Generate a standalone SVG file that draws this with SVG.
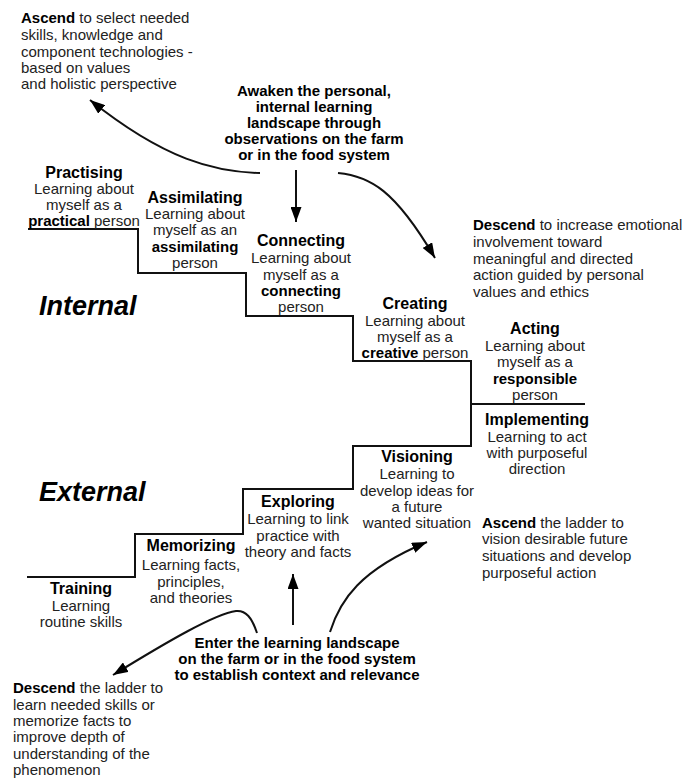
<svg xmlns="http://www.w3.org/2000/svg" width="683" height="778" viewBox="0 0 683 778">
<style>
text{font-family:"Liberation Sans",Arial,sans-serif;}
.t{font-size:15px;fill:#222;}
.c{font-size:15px;fill:#222;text-anchor:middle;}
.h{font-size:16px;font-weight:bold;fill:#000;}
.b{font-weight:bold;fill:#000;}
.big{font-size:27px;font-weight:bold;font-style:italic;fill:#000;}
.line{fill:none;stroke:#111;stroke-width:2;}
.arr{fill:none;stroke:#111;stroke-width:2;marker-end:url(#ah);}
</style>
<defs>
<marker id="ah" markerUnits="userSpaceOnUse" markerWidth="15" markerHeight="11" refX="15" refY="5.5" orient="auto">
<path d="M0,0 L15,5.5 L0,11 z" fill="#000"/>
</marker>
</defs>
<rect width="683" height="778" fill="#fff"/>
<g id="connectors">
<path class="line" d="M28,229 H138 V273 H246 V316 H353 V361 H471 V446 H353 V489 H243 V534 H135 V577 H27"/>
<path class="line" d="M471,404 H585"/>
<path class="arr" d="M260,173 C215,172 165,160 90,100"/>
<path class="arr" d="M296,170 L296,222"/>
<path class="arr" d="M338,173 C370,176 395,190 435,258"/>
<path class="arr" d="M293,625 L293,574"/>
<path class="arr" d="M330,632 C340,600 360,570 427,542"/>
<path class="arr" d="M257,633 C252,618 246,610 236,611 C215,614 170,640 113,675"/>
</g>
<g id="ascend-top">
<text class="t"><tspan x="21" y="23"><tspan class="b">Ascend</tspan> to select needed</tspan><tspan x="21" y="40">skills, knowledge and</tspan><tspan x="21" y="57">component technologies -</tspan><tspan x="21" y="73">based on values</tspan><tspan x="21" y="89">and holistic perspective</tspan></text>
</g>
<g id="awaken">
<text class="c b"><tspan x="314" y="96">Awaken the personal,</tspan><tspan x="314" y="112">internal learning</tspan><tspan x="314" y="128">landscape through</tspan><tspan x="314" y="144">observations on the farm</tspan><tspan x="314" y="160">or in the food system</tspan></text>
</g>
<g id="descend-top">
<text class="t"><tspan x="473" y="230"><tspan class="b">Descend</tspan> to increase emotional</tspan><tspan x="473" y="247">involvement toward</tspan><tspan x="473" y="264">meaningful and directed</tspan><tspan x="473" y="280">action guided by personal</tspan><tspan x="473" y="297">values and ethics</tspan></text>
</g>
<g id="practising">
<text class="c"><tspan class="h" x="84" y="178">Practising</tspan><tspan x="84" y="194">Learning about</tspan><tspan x="84" y="210">myself as a</tspan><tspan x="84" y="226"><tspan class="b">practical</tspan> person</tspan></text>
</g>
<g id="assimilating">
<text class="c"><tspan class="h" x="195" y="203">Assimilating</tspan><tspan x="195" y="219">Learning about</tspan><tspan x="195" y="235">myself as an</tspan><tspan class="b" x="195" y="252">assimilating</tspan><tspan x="195" y="268">person</tspan></text>
</g>
<g id="connecting">
<text class="c"><tspan class="h" x="301" y="246">Connecting</tspan><tspan x="301" y="263">Learning about</tspan><tspan x="301" y="280">myself as a</tspan><tspan class="b" x="301" y="296">connecting</tspan><tspan x="301" y="312">person</tspan></text>
</g>
<g id="creating">
<text class="c"><tspan class="h" x="415" y="309">Creating</tspan><tspan x="415" y="326">Learning about</tspan><tspan x="415" y="342">myself as a</tspan><tspan x="415" y="358"><tspan class="b">creative</tspan> person</tspan></text>
</g>
<g id="acting">
<text class="c"><tspan class="h" x="535" y="334">Acting</tspan><tspan x="535" y="351">Learning about</tspan><tspan x="535" y="367">myself as a</tspan><tspan class="b" x="535" y="384">responsible</tspan><tspan x="535" y="400">person</tspan></text>
</g>
<g id="internal">
<text class="big" x="39" y="315">Internal</text>
</g>
<g id="implementing">
<text class="c"><tspan class="h" x="537" y="425">Implementing</tspan><tspan x="537" y="442">Learning to act</tspan><tspan x="537" y="458">with purposeful</tspan><tspan x="537" y="474">direction</tspan></text>
</g>
<g id="visioning">
<text class="c"><tspan class="h" x="417" y="462">Visioning</tspan><tspan x="417" y="479">Learning to</tspan><tspan x="417" y="496">develop ideas for</tspan><tspan x="417" y="512">a future</tspan><tspan x="417" y="528">wanted situation</tspan></text>
</g>
<g id="external">
<text class="big" x="39" y="501">External</text>
</g>
<g id="exploring">
<text class="c"><tspan class="h" x="298" y="507">Exploring</tspan><tspan x="298" y="524">Learning to link</tspan><tspan x="298" y="541">practice with</tspan><tspan x="298" y="557">theory and facts</tspan></text>
</g>
<g id="memorizing">
<text class="c"><tspan class="h" x="191" y="551">Memorizing</tspan><tspan x="191" y="570">Learning facts,</tspan><tspan x="191" y="587">principles,</tspan><tspan x="191" y="603">and theories</tspan></text>
</g>
<g id="training">
<text class="c"><tspan class="h" x="81" y="594">Training</tspan><tspan x="81" y="611">Learning</tspan><tspan x="81" y="627">routine skills</tspan></text>
</g>
<g id="ascend-bottom">
<text class="t"><tspan x="482" y="528"><tspan class="b">Ascend</tspan> the ladder to</tspan><tspan x="482" y="544">vision desirable future</tspan><tspan x="482" y="561">situations and develop</tspan><tspan x="482" y="578">purposeful action</tspan></text>
</g>
<g id="enter">
<text class="c b"><tspan x="297" y="648">Enter the learning landscape</tspan><tspan x="297" y="664">on the farm or in the food system</tspan><tspan x="297" y="680">to establish context and relevance</tspan></text>
</g>
<g id="descend-bottom">
<text class="t"><tspan x="13" y="693"><tspan class="b">Descend</tspan> the ladder to</tspan><tspan x="13" y="710">learn needed skills or</tspan><tspan x="13" y="726">memorize facts to</tspan><tspan x="13" y="742">improve depth of</tspan><tspan x="13" y="759">understanding of the</tspan><tspan x="13" y="775">phenomenon</tspan></text>
</g>
</svg>
